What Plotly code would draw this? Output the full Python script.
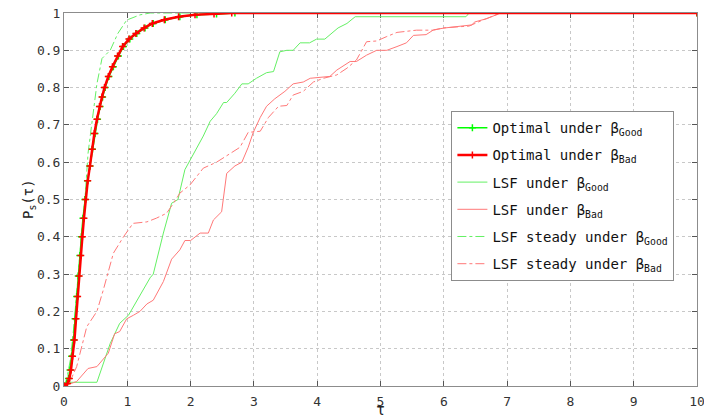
import plotly.graph_objects as go

# ---------------- data ----------------
opt_good_tau = [0, 0.04, 0.07, 0.095, 0.12, 0.15, 0.175, 0.2, 0.225, 0.25, 0.275, 0.3, 0.33, 0.37,
                0.41, 0.45, 0.49, 0.53, 0.57, 0.61, 0.65, 0.71, 0.78, 0.86, 0.94, 1.04, 1.15, 1.28,
                1.41, 1.6, 1.83, 2.1, 2.41, 2.7, 10]
opt_good_val = [0, 0.007, 0.02, 0.043, 0.08, 0.123, 0.18, 0.24, 0.295, 0.35, 0.40, 0.45, 0.50, 0.55,
                0.59, 0.635, 0.677, 0.715, 0.749, 0.775, 0.80, 0.83, 0.856, 0.885, 0.91, 0.93, 0.945, 0.96,
                0.972, 0.982, 0.99, 0.995, 0.997, 1.0, 1.0]

opt_bad_tau = [0, 0.055, 0.085, 0.11, 0.135, 0.165, 0.19, 0.215, 0.24, 0.265, 0.29, 0.315, 0.34, 0.375,
               0.41, 0.445, 0.48, 0.52, 0.56, 0.6, 0.64, 0.7, 0.765, 0.845, 0.925, 1.025, 1.135, 1.265,
               1.395, 1.585, 1.81, 2.07, 2.37, 2.65, 10]
opt_bad_val = [0, 0.007, 0.02, 0.043, 0.08, 0.123, 0.18, 0.24, 0.295, 0.35, 0.40, 0.45, 0.50, 0.55,
               0.59, 0.635, 0.677, 0.715, 0.749, 0.775, 0.80, 0.83, 0.856, 0.885, 0.91, 0.93, 0.945, 0.96,
               0.972, 0.982, 0.99, 0.995, 0.997, 1.0, 1.0]

lsf_good_tau = [0, 0.05, 0.15, 0.52, 0.73, 0.88, 1.02, 1.2, 1.36, 1.41, 1.57, 1.70, 1.80, 1.91, 2.02,
                2.2, 2.31, 2.41, 2.52, 2.57, 2.70, 2.81, 2.91, 3.04, 3.2, 3.31, 3.41, 3.52, 3.62,
                3.73, 3.88, 3.99, 4.12, 4.23, 4.33, 4.47, 4.6, 6.35, 6.4, 10]
lsf_good_val = [0, 0.01, 0.01, 0.01, 0.114, 0.168, 0.19, 0.245, 0.29, 0.30, 0.41, 0.49, 0.5, 0.58, 0.615,
                0.67, 0.71, 0.73, 0.76, 0.76, 0.785, 0.81, 0.81, 0.825, 0.84, 0.843, 0.896, 0.9, 0.9,
                0.92, 0.92, 0.93, 0.93, 0.945, 0.96, 0.972, 0.99, 0.99, 1.0, 1.0]

lsf_bad_tau = [0, 0.2, 0.38, 0.52, 0.7, 0.8, 0.88, 0.99, 1.1, 1.2, 1.31, 1.41, 1.57, 1.70, 1.83, 1.91,
               2.0, 2.15, 2.28, 2.36, 2.49, 2.57, 2.70, 2.81, 2.91, 2.99, 3.10, 3.2, 3.33, 3.49, 3.62,
               3.78, 3.89, 3.99, 4.2, 4.31, 4.52, 4.62, 4.78, 4.94, 5.1, 5.26, 5.41, 5.52, 5.72, 5.84,
               6.02, 6.44, 6.49, 6.68, 6.75, 6.86, 6.9, 10]
lsf_bad_val = [0, 0.012, 0.047, 0.052, 0.088, 0.14, 0.146, 0.18, 0.19, 0.2, 0.22, 0.23, 0.28, 0.34, 0.365,
               0.39, 0.39, 0.41, 0.41, 0.445, 0.467, 0.57, 0.59, 0.60, 0.64, 0.68, 0.72, 0.75, 0.77, 0.79,
               0.81, 0.815, 0.825, 0.827, 0.83, 0.847, 0.87, 0.87, 0.887, 0.9, 0.9, 0.91, 0.92, 0.94,
               0.942, 0.955, 0.96, 0.968, 0.976, 0.985, 0.99, 0.997, 1.0, 1.0]

steady_good_tau = [0, 0.04, 0.1, 0.15, 0.2, 0.25, 0.29, 0.33, 0.38, 0.44, 0.52, 0.6, 0.73, 0.85, 0.99,
                   1.2, 1.36, 10]
steady_good_val = [0, 0.016, 0.07, 0.15, 0.25, 0.36, 0.43, 0.5, 0.624, 0.704, 0.81, 0.878, 0.90, 0.945,
                   0.981, 0.995, 1.0, 1.0]

steady_bad_tau = [0, 0.095, 0.2, 0.36, 0.52, 0.62, 0.78, 0.94, 1.09, 1.31, 1.46, 1.62, 1.73, 1.83, 1.99,
                  2.2, 2.41, 2.6, 2.78, 2.91, 3.10, 3.23, 3.39, 3.52, 3.62, 3.78, 3.94, 4.1, 4.31, 4.47,
                  4.62, 4.78, 4.94, 5.1, 5.26, 5.57, 5.84, 5.99, 6.4, 6.6, 6.9, 10]
steady_bad_val = [0, 0.012, 0.052, 0.159, 0.2, 0.257, 0.356, 0.40, 0.436, 0.44, 0.45, 0.463, 0.49, 0.517,
                  0.539, 0.584, 0.60, 0.62, 0.64, 0.68, 0.683, 0.72, 0.75, 0.752, 0.78, 0.79, 0.815,
                  0.825, 0.834, 0.852, 0.874, 0.923, 0.925, 0.937, 0.948, 0.954, 0.954, 0.96, 0.965,
                  0.98, 1.0, 1.0]

x_ticks = list(range(0, 11))
y_ticks = [0, 0.1, 0.2, 0.3, 0.4, 0.5, 0.6, 0.7, 0.8, 0.9, 1]
y_tick_text = ["0", "0.1", "0.2", "0.3", "0.4", "0.5", "0.6", "0.7", "0.8", "0.9", "1"]

# ---------------- styles ----------------
GREEN = "rgb(0,255,0)"
RED = "rgb(255,0,0)"
LGREEN = "rgb(100,240,100)"
LRED = "rgb(255,120,120)"
FONT = "DejaVu Sans Mono"

fig = go.Figure()

fig.add_trace(go.Scatter(x=lsf_good_tau, y=lsf_good_val, mode="lines", name="LSF under β<sub>Good</sub>",
                         line=dict(color=LGREEN, width=1), legendrank=3, legendgroup="c"))
fig.add_trace(go.Scatter(x=lsf_bad_tau, y=lsf_bad_val, mode="lines", name="LSF under β<sub>Bad</sub>",
                         line=dict(color=LRED, width=1), legendrank=4, legendgroup="d"))
fig.add_trace(go.Scatter(x=steady_good_tau, y=steady_good_val, mode="lines",
                         name="LSF steady under β<sub>Good</sub>",
                         line=dict(color=LGREEN, width=1, dash="dashdot"), legendrank=5, legendgroup="e"))
fig.add_trace(go.Scatter(x=steady_bad_tau, y=steady_bad_val, mode="lines",
                         name="LSF steady under β<sub>Bad</sub>",
                         line=dict(color=LRED, width=1, dash="dashdot"), legendrank=6, legendgroup="f"))
fig.add_trace(go.Scatter(x=opt_good_tau, y=opt_good_val, mode="lines+markers",
                         name="Optimal under β<sub>Good</sub>",
                         line=dict(color=GREEN, width=1.5),
                         marker=dict(symbol="cross-thin", size=5, line=dict(color=GREEN, width=1.5)),
                         legendrank=1, legendgroup="a"))
fig.add_trace(go.Scatter(x=opt_bad_tau, y=opt_bad_val, mode="lines+markers",
                         name="Optimal under β<sub>Bad</sub>",
                         line=dict(color=RED, width=2.5),
                         marker=dict(symbol="cross-thin", size=5, line=dict(color=RED, width=1.5)),
                         legendrank=2, legendgroup="b"))

axis_common = dict(
    showline=True, linecolor="#8c8c8c", linewidth=1, mirror="allticks",
    ticks="inside", ticklen=5, tickcolor="#555555",
    showgrid=True, gridcolor="#c8c8c8", griddash="dot", gridwidth=1,
    zeroline=False, automargin=False, layer="below traces",
    ticklabeloverflow="allow",
    tickfont=dict(family=FONT, size=13, color="#333333"),
)

fig.update_xaxes(range=[0, 10], tickmode="array", tickvals=x_ticks, ticklabelstandoff=3, **axis_common)
fig.update_yaxes(range=[0, 1], tickmode="array", tickvals=y_ticks, ticktext=y_tick_text, **axis_common)

fig.add_annotation(text="τ", xref="paper", yref="paper", x=0.5, y=-0.064,
                   xanchor="center", yanchor="middle", showarrow=False,
                   font=dict(family=FONT, size=15, color="#222222"))
fig.add_annotation(text="P<sub>s</sub>(τ)", xref="paper", yref="paper", x=-0.056, y=0.5,
                   xanchor="center", yanchor="middle", showarrow=False, textangle=-90,
                   font=dict(family=FONT, size=14, color="#222222"))

fig.update_layout(
    width=704, height=416,
    margin=dict(l=64, r=7, t=13, b=30),
    paper_bgcolor="white", plot_bgcolor="white",
    font=dict(family=FONT, color="#222222"),
    showlegend=True,
    legend=dict(x=0.612, y=0.737, xanchor="left", yanchor="top",
                bgcolor="white", bordercolor="#8c8c8c", borderwidth=1,
                font=dict(family=FONT, size=14, color="#111111"),
                itemwidth=30, tracegroupgap=6),
)

fig.write_html("out.html", config={"displayModeBar": False},
               post_script="document.body.style.margin='0';")
